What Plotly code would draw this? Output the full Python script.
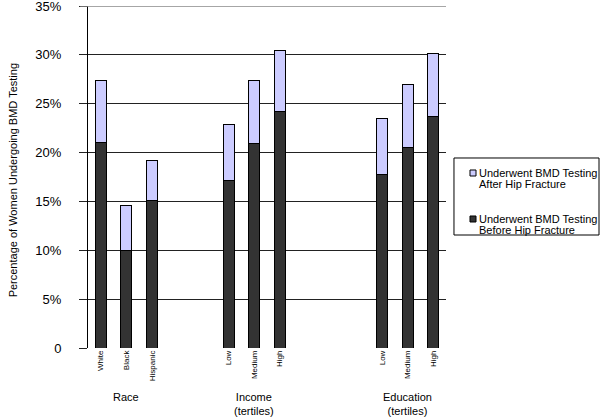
import plotly.graph_objects as go

# category positions (in bar slots) and labels
positions = [0, 1, 2, 5, 6, 7, 11, 12, 13]
labels = ["White", "Black", "Hispanic", "Low", "Medium", "High", "Low", "Medium", "High"]

# percent of women tested before hip fracture, and total (before + after)
before = [21.0, 10.0, 15.1, 17.1, 20.9, 24.2, 17.8, 20.5, 23.7]
total = [27.4, 14.6, 19.2, 22.9, 27.4, 30.4, 23.5, 27.0, 30.1]
after = [round(t - b, 1) for t, b in zip(total, before)]

groups = ["Race", "Income<br>(tertiles)", "Education<br>(tertiles)"]
group_pos = [1, 6, 12]

ytick_vals = [0, 5, 10, 15, 20, 25, 30, 35]
ytick_text = ["0", "5%", "10%", "15%", "20%", "25%", "30%", "35%"]

series = [
    ("Underwent BMD Testing", "Before Hip Fracture", before, "#333333"),
    ("Underwent BMD Testing", "After Hip Fracture", after, "#ccccff"),
]

fig = go.Figure()
for l1, l2, vals, col in series:
    fig.add_trace(go.Bar(x=positions, y=vals, width=0.42, name=l1 + " " + l2,
                         showlegend=False,
                         marker=dict(color=col, line=dict(color="black", width=1))))

for g, p in zip(groups, group_pos):
    fig.add_annotation(x=p, y=-0.12, xref="x", yref="paper", text=g, showarrow=False,
                       yanchor="top", font=dict(size=11, color="black"))

fig.add_annotation(x=-0.232, y=0.49, xref="paper", yref="paper", textangle=-90,
                   text="Percentage of Women Undergoing BMD Testing", showarrow=False,
                   font=dict(size=11, color="black"))

# top line is lighter grey
fig.add_shape(type="line", xref="paper", yref="y", x0=-0.022, x1=1, y0=35, y1=35,
              line=dict(color="#888888", width=1.5))

# legend box drawn by hand (After entry on top)
fig.add_shape(type="rect", xref="paper", yref="paper", x0=1.0223, x1=1.4274,
              y0=0.3304, y1=0.5556, line=dict(color="black", width=1), fillcolor="white")
for i, (l1, l2, vals, col) in enumerate(reversed(series)):
    yc = 0.5117 - i * 0.1345
    fig.add_shape(type="rect", xref="paper", yref="paper", x0=1.067, x1=1.0838,
                  y0=yc - 0.0088, y1=yc + 0.0088, fillcolor=col,
                  line=dict(color="black", width=1))
    fig.add_annotation(x=1.0866, y=yc, xref="paper", yref="paper", text=l1,
                       xanchor="left", yanchor="middle", showarrow=False,
                       font=dict(size=11, color="black"))
    fig.add_annotation(x=1.0866, y=yc - 0.032, xref="paper", yref="paper", text=l2,
                       xanchor="left", yanchor="middle", showarrow=False,
                       font=dict(size=11, color="black"))

fig.update_layout(
    width=603, height=417,
    margin=dict(l=88, r=157, t=6, b=69, autoexpand=False),
    barmode="stack",
    plot_bgcolor="white", paper_bgcolor="white",
    font=dict(family="Arial, Liberation Sans, sans-serif", color="black"),
    showlegend=False,
    xaxis=dict(range=[-0.5, 13.5], tickvals=positions, ticktext=labels,
               tickangle=-90, tickfont=dict(size=8), showgrid=False,
               zeroline=False, showline=False, ticks="", automargin=False),
    yaxis=dict(range=[0, 35], tickvals=ytick_vals, ticktext=ytick_text,
               tickfont=dict(size=13), showgrid=True, gridcolor="#222222",
               gridwidth=1, zeroline=False, showline=True, linecolor="black",
               ticks="outside", ticklen=8, tickcolor="#222222",
               ticklabelstandoff=15, ticklabeloverflow="allow", automargin=False),
)

# drop the browser's default body margin so the figure sits at the page corner
fig.write_html("out.html", config={"displayModeBar": False},
               post_script="document.body.style.margin='0px';")
